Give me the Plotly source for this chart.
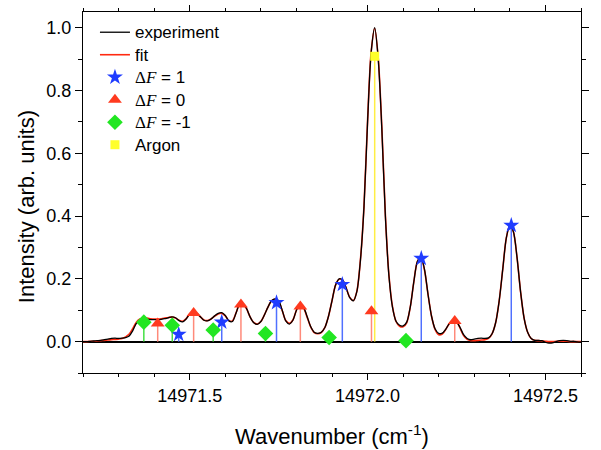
import plotly.graph_objects as go

# ---- spectrum (wavenumber grid, cm^-1) ----
wavenumber = [round(14971.20 + 0.01 * i, 2) for i in range(141)]

experiment = [
    0.000, 0.000, 0.001, 0.002, 0.003, 0.004, 0.006, 0.008, 0.010, 0.011,
    0.010, 0.011, 0.013, 0.018, 0.035, 0.058, 0.068, 0.071, 0.071, 0.070,
    0.070, 0.070, 0.071, 0.073, 0.076, 0.079, 0.076, 0.067, 0.063, 0.072,
    0.088, 0.094, 0.090, 0.079, 0.068, 0.066, 0.072, 0.082, 0.090, 0.092,
    0.083, 0.066, 0.064, 0.090, 0.118, 0.120, 0.105, 0.078, 0.060, 0.055,
    0.064, 0.085, 0.110, 0.130, 0.136, 0.130, 0.100, 0.066, 0.056, 0.068,
    0.100, 0.120, 0.110, 0.080, 0.048, 0.030, 0.026, 0.030, 0.045, 0.080,
    0.130, 0.180, 0.200, 0.196, 0.170, 0.140, 0.130, 0.160, 0.260, 0.430,
    0.700, 0.920, 1.000, 0.900, 0.680, 0.400, 0.210, 0.110, 0.065, 0.052,
    0.050, 0.062, 0.110, 0.190, 0.255, 0.270, 0.230, 0.150, 0.080, 0.040,
    0.026, 0.027, 0.040, 0.058, 0.068, 0.064, 0.045, 0.022, 0.010, 0.006,
    0.008, 0.010, 0.011, 0.010, 0.012, 0.025, 0.060, 0.130, 0.230, 0.330,
    0.370, 0.350, 0.270, 0.160, 0.075, 0.030, 0.010, 0.004, 0.004, 0.003,
    -0.002, -0.005, -0.004, 0.000, 0.003, 0.004, 0.003, 0.001, 0.001, -0.001,
    -0.002,
]

fit = [
    0.000, 0.000, 0.001, 0.001, 0.002, 0.003, 0.004, 0.005, 0.006, 0.007,
    0.008, 0.010, 0.015, 0.024, 0.042, 0.062, 0.072, 0.075, 0.075, 0.073,
    0.072, 0.072, 0.073, 0.075, 0.077, 0.078, 0.075, 0.068, 0.065, 0.073,
    0.088, 0.094, 0.090, 0.079, 0.069, 0.067, 0.072, 0.081, 0.088, 0.090,
    0.082, 0.067, 0.066, 0.091, 0.118, 0.120, 0.104, 0.078, 0.061, 0.056,
    0.064, 0.085, 0.110, 0.130, 0.135, 0.128, 0.099, 0.067, 0.058, 0.069,
    0.100, 0.119, 0.108, 0.078, 0.047, 0.029, 0.025, 0.029, 0.045, 0.080,
    0.130, 0.180, 0.199, 0.195, 0.170, 0.141, 0.131, 0.161, 0.262, 0.433,
    0.703, 0.922, 0.998, 0.903, 0.685, 0.405, 0.213, 0.112, 0.064, 0.049,
    0.047, 0.060, 0.110, 0.190, 0.255, 0.268, 0.228, 0.150, 0.080, 0.038,
    0.022, 0.024, 0.039, 0.058, 0.068, 0.064, 0.043, 0.019, 0.007, 0.003,
    0.003, 0.004, 0.005, 0.006, 0.010, 0.025, 0.060, 0.130, 0.230, 0.330,
    0.370, 0.350, 0.270, 0.160, 0.075, 0.030, 0.010, 0.004, 0.003, 0.002,
    0.001, 0.000, 0.000, 0.001, 0.001, 0.001, 0.001, 0.000, 0.000, 0.000,
    0.000,
]

# ---- assigned hyperfine components ----
df1_pos = [14971.469, 14971.590, 14971.744, 14971.929, 14972.151, 14972.404]
df1_amp = [0.023, 0.062, 0.124, 0.182, 0.265, 0.370]

df0_pos = [14971.410, 14971.511, 14971.644, 14971.811, 14972.011, 14972.245]
df0_amp = [0.058, 0.091, 0.118, 0.112, 0.097, 0.066]

dfm1_pos = [14971.371, 14971.451, 14971.566, 14971.713, 14971.892, 14972.108]
dfm1_amp = [0.062, 0.052, 0.037, 0.026, 0.013, 0.003]

argon_pos = [14972.020]
argon_amp = [0.909]

x_ticks = [14971.5, 14972.0, 14972.5]
y_ticks = [0.0, 0.2, 0.4, 0.6, 0.8, 1.0]

SERIF = "Liberation Serif"
SANS = "Liberation Sans, Arial, sans-serif"


def big(label):
    # legend rows are spaced by the legend font size; the label itself is drawn larger
    return f"<span style='font-size:17px'>{label}</span>"


def delta_f(value):
    return big(f"<span style='font-family:{SERIF}'>Δ<i>F</i></span> = {value}")


def stems(pos, amp):
    xs, ys = [], []
    for p, a in zip(pos, amp):
        xs += [p, p, None]
        ys += [0, a, None]
    return xs, ys


groups = [
    (delta_f("1"), df1_pos, df1_amp, "#1f3cff", "#5070ff", "star", 12, 3),
    (delta_f("0"), df0_pos, df0_amp, "#ff3a1f", "#ff8a7a", "triangle-up", 12, 4),
    (delta_f("-1"), dfm1_pos, dfm1_amp, "#22e622", "#44e044", "diamond", 12, 5),
    (big("Argon"), argon_pos, argon_amp, "#ffff2a", "#ffee44", "square", 9, 6),
]

fig = go.Figure()

# stick lines underneath everything
for name, pos, amp, mcol, scol, sym, size, rank in groups:
    sx, sy = stems(pos, amp)
    fig.add_trace(go.Scatter(x=sx, y=sy, mode="lines", showlegend=False,
                             hoverinfo="skip", line=dict(color=scol, width=1.5)))

fig.add_trace(go.Scatter(x=wavenumber, y=fit, mode="lines", name=big("fit"),
                         legendrank=2, line=dict(color="#ff2a10", width=1.6,
                                                 shape="spline", smoothing=0.8)))
fig.add_trace(go.Scatter(x=wavenumber, y=experiment, mode="lines", name=big("experiment"),
                         legendrank=1, line=dict(color="black", width=1.3,
                                                 shape="spline", smoothing=0.8)))

for name, pos, amp, mcol, scol, sym, size, rank in groups:
    fig.add_trace(go.Scatter(x=pos, y=amp, mode="markers", name=name, legendrank=rank,
                             marker=dict(symbol=sym, size=size, color=mcol,
                                         line=dict(width=0))))

axis_common = dict(
    showline=True, linecolor="black", linewidth=1.2, mirror="ticks",
    ticks="outside", tickcolor="black", tickwidth=1, showgrid=False,
    tickfont=dict(family=SANS, size=18, color="black"),
)

fig.update_xaxes(range=[14971.2, 14972.6], tickvals=x_ticks, tickformat=".1f",
                 ticklen=6, zeroline=False,
                 minor=dict(dtick=0.1, tick0=14971.5, ticklen=3, ticks="outside",
                            tickcolor="black", showgrid=False),
                 **axis_common)
fig.update_yaxes(range=[-0.1, 1.05], tickvals=y_ticks, tickformat=".1f",
                 ticklen=7, zeroline=True, zerolinecolor="black", zerolinewidth=1.6,
                 minor=dict(dtick=0.1, tick0=0, ticklen=4, ticks="outside",
                            tickcolor="black", showgrid=False),
                 **axis_common)

fig.add_annotation(text="Intensity (arb. units)", xref="paper", yref="paper",
                   x=-0.1145, y=0.462, textangle=-90, showarrow=False,
                   xanchor="center", yanchor="middle",
                   font=dict(family=SANS, size=22, color="black"))
fig.add_annotation(text="Wavenumber (cm<sup>-1</sup>)", xref="paper", yref="paper",
                   x=0.5, y=-0.172, showarrow=False, xanchor="center", yanchor="middle",
                   font=dict(family=SANS, size=22, color="black"))

fig.update_layout(
    width=601, height=450,
    margin=dict(l=83, r=20, t=5, b=77),
    paper_bgcolor="white", plot_bgcolor="white",
    font=dict(family=SANS, color="black"),
    legend=dict(x=0.024, y=0.989, xanchor="left", yanchor="top",
                bgcolor="rgba(0,0,0,0)", borderwidth=0,
                font=dict(family=SANS, size=15, color="black"),
                tracegroupgap=0),
)

fig.write_html("out.html")
